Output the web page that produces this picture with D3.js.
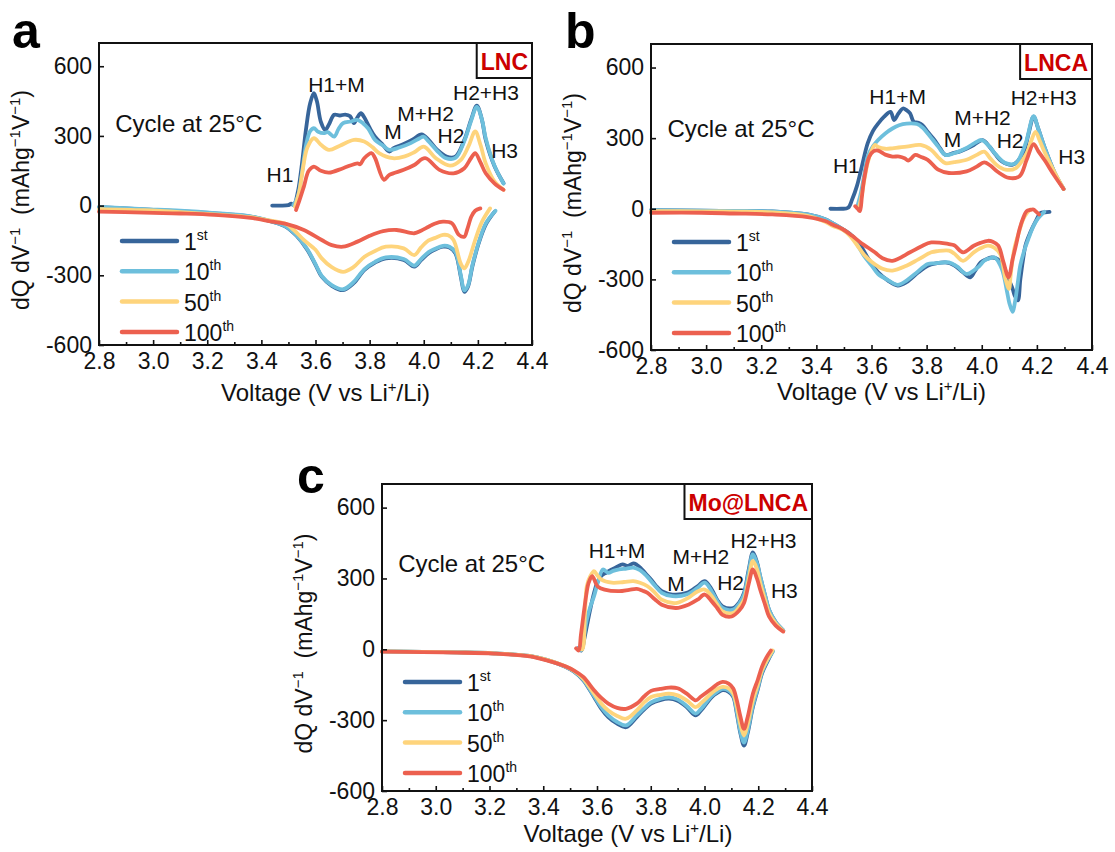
<!DOCTYPE html>
<html>
<head>
<meta charset="utf-8">
<script src="https://cdn.jsdelivr.net/npm/d3@7"></script>
<style>
  body { margin: 0; background: #fff; }
  text { font-family: "Liberation Sans", Arial, sans-serif; fill: #111; white-space: pre; }
</style>
</head>
<body>
<svg id="fig" width="1115" height="852"></svg>
<script>
// cycles shown in every panel
var cycleNames = ["1", "10", "50", "100"];
var cycleSups = ["st", "th", "th", "th"];
var cycleColors = ["#37659a", "#6dbfdc", "#fed47c", "#ec604f"];

var xTicks = [2.8, 3.0, 3.2, 3.4, 3.6, 3.8, 4.0, 4.2, 4.4];
var xMinor = [2.9, 3.1, 3.3, 3.5, 3.7, 3.9, 4.1, 4.3];
var yTicks = [-600, -300, 0, 300, 600];

// ---- panel a : LNC  (voltage, dQ/dV) ----
var a_ch1 = [[3.44,0],[3.47,0],[3.50,2],[3.51,8],[3.52,2],[3.535,60],[3.55,180],[3.565,330],[3.58,440],[3.594,484],[3.605,450],[3.62,360],[3.636,326],[3.65,350],[3.669,391],[3.69,388],[3.71,392],[3.728,385],[3.742,355],[3.755,380],[3.768,398],[3.78,380],[3.8,335],[3.82,297],[3.85,260],[3.873,233],[3.89,248],[3.926,265],[3.96,285],[3.992,307],[4.018,283],[4.05,240],[4.084,211],[4.117,211],[4.15,283],[4.175,370],[4.196,430],[4.215,370],[4.229,283],[4.262,168],[4.295,96]];
var a_ch10 = [[3.518,2],[3.535,40],[3.55,140],[3.565,260],[3.58,320],[3.594,333],[3.61,318],[3.63,312],[3.645,316],[3.669,297],[3.685,330],[3.702,355],[3.73,362],[3.755,369],[3.775,355],[3.794,333],[3.82,283],[3.85,258],[3.873,240],[3.91,250],[3.952,269],[3.985,290],[3.999,297],[4.018,276],[4.05,235],[4.08,205],[4.117,205],[4.15,278],[4.175,365],[4.196,425],[4.215,370],[4.229,290],[4.262,170],[4.295,95]];
var a_ch50 = [[3.524,-5],[3.54,60],[3.555,170],[3.57,250],[3.594,290],[3.62,262],[3.65,240],[3.69,258],[3.742,283],[3.78,276],[3.81,252],[3.835,226],[3.886,204],[3.93,212],[3.965,230],[4.0,254],[4.045,204],[4.097,172],[4.137,197],[4.165,255],[4.19,319],[4.21,260],[4.229,182],[4.262,103],[4.295,68]];
var a_ch100 = [[3.528,-19],[3.54,20],[3.557,82],[3.575,150],[3.594,168],[3.62,150],[3.65,142],[3.702,161],[3.755,182],[3.765,178],[3.78,204],[3.807,226],[3.82,205],[3.853,111],[3.873,132],[3.926,154],[3.965,175],[4.005,204],[4.058,154],[4.11,139],[4.15,161],[4.175,205],[4.19,226],[4.21,185],[4.229,139],[4.262,95],[4.295,68]];
var a_dis1 = [[4.262,-26],[4.23,-80],[4.203,-162],[4.18,-260],[4.163,-350],[4.15,-371],[4.137,-306],[4.117,-205],[4.095,-180],[4.071,-177],[4.04,-190],[4.018,-205],[3.99,-235],[3.965,-263],[3.926,-234],[3.86,-227],[3.82,-245],[3.781,-277],[3.74,-335],[3.702,-364],[3.66,-345],[3.623,-306],[3.6,-255],[3.57,-191],[3.53,-130],[3.491,-91],[3.439,-69],[3.36,-47],[3.228,-33],[3.1,-24],[2.965,-16],[2.8,-7]];
var a_dis10 = [[4.265,-22],[4.23,-75],[4.203,-158],[4.18,-255],[4.163,-345],[4.15,-365],[4.137,-300],[4.117,-200],[4.095,-177],[4.071,-173],[4.04,-187],[4.018,-200],[3.99,-230],[3.965,-258],[3.926,-230],[3.86,-223],[3.82,-242],[3.781,-273],[3.74,-330],[3.702,-360],[3.66,-342],[3.623,-303],[3.6,-252],[3.57,-188],[3.53,-128],[3.491,-90],[3.439,-68],[3.36,-46],[3.228,-32],[3.1,-22],[2.965,-15],[2.8,-6]];
var a_dis50 = [[4.245,-12],[4.215,-70],[4.19,-148],[4.165,-240],[4.15,-270],[4.137,-250],[4.11,-148],[4.09,-128],[4.071,-126],[4.04,-140],[4.018,-150],[3.99,-180],[3.965,-213],[3.926,-184],[3.86,-177],[3.82,-195],[3.781,-220],[3.74,-265],[3.702,-285],[3.66,-265],[3.623,-227],[3.6,-190],[3.557,-148],[3.52,-105],[3.491,-79],[3.439,-66],[3.36,-50],[3.228,-38],[3.1,-28],[2.965,-20],[2.8,-15]];
var a_dis100 = [[4.209,-12],[4.19,-22],[4.176,-47],[4.16,-105],[4.15,-134],[4.13,-126],[4.104,-76],[4.071,-69],[4.04,-78],[4.018,-91],[3.99,-108],[3.965,-119],[3.9,-105],[3.85,-110],[3.8,-130],[3.755,-155],[3.702,-177],[3.66,-170],[3.623,-148],[3.557,-105],[3.491,-79],[3.439,-69],[3.36,-53],[3.228,-40],[3.1,-34],[2.965,-30],[2.8,-26]];

// ---- panel b : LNCA ----
var b_ch1 = [[3.451,0],[3.49,0],[3.515,4],[3.53,40],[3.547,96],[3.565,180],[3.586,278],[3.605,330],[3.624,362],[3.645,390],[3.669,412],[3.682,377],[3.698,405],[3.714,426],[3.728,418],[3.74,405],[3.753,370],[3.77,365],[3.785,355],[3.805,325],[3.829,292],[3.85,255],[3.868,229],[3.9,238],[3.919,243],[3.95,258],[3.971,271],[4.003,292],[4.028,264],[4.05,230],[4.073,201],[4.112,187],[4.15,236],[4.17,320],[4.188,391],[4.205,340],[4.227,264],[4.265,152],[4.297,84]];
var b_ch10 = [[3.547,4],[3.56,60],[3.573,140],[3.586,222],[3.605,265],[3.624,292],[3.65,320],[3.676,341],[3.7,355],[3.727,362],[3.765,360],[3.785,345],[3.804,320],[3.842,264],[3.868,229],[3.9,236],[3.945,258],[3.975,280],[4.0,292],[4.025,268],[4.05,232],[4.086,194],[4.124,194],[4.15,250],[4.163,292],[4.188,393],[4.205,340],[4.227,264],[4.265,152],[4.297,84]];
var b_ch50 = [[3.554,0],[3.565,60],[3.575,130],[3.586,194],[3.6,245],[3.612,271],[3.624,262],[3.65,255],[3.676,257],[3.727,264],[3.778,271],[3.817,250],[3.845,215],[3.868,194],[3.9,198],[3.945,208],[3.98,228],[4.009,243],[4.03,215],[4.055,185],[4.086,166],[4.124,173],[4.163,236],[4.18,290],[4.195,327],[4.21,290],[4.227,243],[4.265,152],[4.297,84]];
var b_ch100 = [[3.541,11],[3.55,0],[3.558,-10],[3.565,50],[3.573,124],[3.592,222],[3.608,245],[3.624,247],[3.65,230],[3.676,222],[3.701,222],[3.72,215],[3.733,205],[3.745,215],[3.759,229],[3.78,220],[3.804,208],[3.842,166],[3.881,152],[3.945,159],[3.98,178],[4.009,197],[4.03,185],[4.06,155],[4.099,131],[4.137,138],[4.163,208],[4.188,275],[4.205,245],[4.227,208],[4.265,138],[4.297,84]];
var b_dis1 = [[4.246,-13],[4.23,-15],[4.214,-17],[4.195,-55],[4.176,-101],[4.16,-150],[4.15,-214],[4.14,-300],[4.131,-389],[4.12,-370],[4.112,-340],[4.092,-284],[4.073,-228],[4.055,-212],[4.035,-207],[4.015,-215],[3.996,-228],[3.975,-265],[3.958,-291],[3.932,-270],[3.9,-240],[3.868,-228],[3.835,-232],[3.804,-242],[3.77,-270],[3.727,-312],[3.695,-326],[3.66,-305],[3.624,-270],[3.59,-215],[3.56,-157],[3.53,-115],[3.496,-87],[3.46,-62],[3.432,-45],[3.368,-24],[3.24,-11],[3.1,-9],[2.983,-8],[2.8,-6]];
var b_dis10 = [[4.227,-13],[4.205,-40],[4.188,-73],[4.17,-125],[4.156,-171],[4.14,-240],[4.131,-312],[4.12,-400],[4.112,-438],[4.1,-400],[4.092,-354],[4.073,-256],[4.047,-207],[4.025,-212],[4.009,-221],[3.985,-250],[3.945,-277],[3.91,-245],[3.881,-228],[3.83,-232],[3.804,-235],[3.76,-275],[3.727,-305],[3.695,-323],[3.66,-303],[3.624,-277],[3.6,-240],[3.573,-200],[3.53,-120],[3.496,-87],[3.46,-62],[3.432,-45],[3.368,-24],[3.24,-11],[3.1,-9],[2.983,-8],[2.8,-6]];
var b_dis50 = [[4.176,-3],[4.163,-20],[4.15,-45],[4.135,-100],[4.118,-171],[4.105,-280],[4.099,-340],[4.086,-298],[4.067,-193],[4.045,-165],[4.022,-157],[3.995,-168],[3.971,-185],[3.932,-221],[3.9,-190],[3.881,-178],[3.84,-180],[3.817,-185],[3.77,-215],[3.727,-242],[3.676,-263],[3.64,-255],[3.6,-225],[3.573,-195],[3.548,-155],[3.522,-115],[3.496,-90],[3.46,-73],[3.432,-55],[3.368,-30],[3.24,-15],[3.1,-12],[2.983,-11],[2.8,-10]];
var b_dis100 = [[4.208,-24],[4.195,-10],[4.188,-3],[4.175,-5],[4.163,-10],[4.15,-40],[4.137,-87],[4.125,-150],[4.112,-214],[4.097,-291],[4.079,-228],[4.06,-157],[4.04,-140],[4.022,-136],[3.995,-145],[3.971,-157],[3.932,-185],[3.9,-155],[3.881,-150],[3.817,-143],[3.78,-160],[3.74,-185],[3.676,-221],[3.64,-210],[3.612,-185],[3.56,-143],[3.53,-115],[3.496,-87],[3.46,-68],[3.432,-52],[3.368,-35],[3.24,-24],[3.1,-20],[2.983,-17],[2.8,-17]];

// ---- panel c : Mo@LNCA ----
var c_ch1 = [[3.529,4],[3.542,-5],[3.552,40],[3.562,97],[3.575,170],[3.589,239],[3.6,280],[3.615,310],[3.635,325],[3.655,338],[3.675,350],[3.695,360],[3.715,353],[3.735,364],[3.748,358],[3.761,346],[3.78,322],[3.801,296],[3.82,268],[3.841,246],[3.881,232],[3.934,239],[3.974,267],[4.001,289],[4.027,253],[4.047,210],[4.067,182],[4.107,175],[4.13,200],[4.147,239],[4.165,340],[4.18,410],[4.195,370],[4.207,310],[4.225,230],[4.24,168],[4.265,115],[4.293,80]];
var c_ch10 = [[3.529,2],[3.542,-3],[3.552,60],[3.562,125],[3.575,180],[3.589,225],[3.605,290],[3.622,338],[3.642,324],[3.66,332],[3.682,338],[3.71,342],[3.735,346],[3.76,335],[3.785,310],[3.815,270],[3.841,239],[3.881,225],[3.934,232],[3.974,260],[4.001,282],[4.027,245],[4.047,205],[4.067,175],[4.107,168],[4.13,195],[4.147,232],[4.165,330],[4.18,402],[4.195,365],[4.207,310],[4.225,230],[4.24,168],[4.265,115],[4.293,80]];
var c_ch50 = [[3.535,4],[3.545,0],[3.555,150],[3.562,267],[3.575,310],[3.589,331],[3.6,315],[3.615,296],[3.655,282],[3.7,285],[3.735,289],[3.76,282],[3.788,267],[3.815,240],[3.841,210],[3.894,196],[3.94,218],[3.974,245],[4.001,253],[4.027,225],[4.047,190],[4.067,161],[4.107,154],[4.13,180],[4.147,210],[4.165,300],[4.18,374],[4.195,340],[4.207,282],[4.225,210],[4.24,154],[4.265,110],[4.293,78]];
var c_ch100 = [[3.522,4],[3.532,-5],[3.54,60],[3.549,139],[3.56,230],[3.569,282],[3.582,310],[3.602,267],[3.628,253],[3.682,246],[3.72,252],[3.748,256],[3.77,248],[3.788,239],[3.815,212],[3.841,189],[3.894,175],[3.94,189],[3.974,210],[4.001,232],[4.027,203],[4.047,175],[4.067,146],[4.101,139],[4.13,165],[4.147,196],[4.165,280],[4.18,338],[4.195,300],[4.207,253],[4.225,190],[4.24,139],[4.265,100],[4.293,75]];
var c_dis1 = [[4.253,-10],[4.235,-50],[4.214,-102],[4.198,-170],[4.18,-245],[4.16,-358],[4.147,-408],[4.134,-358],[4.12,-270],[4.107,-202],[4.09,-180],[4.067,-173],[4.047,-185],[4.027,-202],[3.987,-259],[3.967,-280],[3.934,-245],[3.9,-218],[3.868,-209],[3.835,-215],[3.801,-230],[3.775,-255],[3.748,-287],[3.708,-330],[3.675,-315],[3.642,-287],[3.615,-250],[3.589,-202],[3.549,-131],[3.515,-95],[3.482,-74],[3.416,-46],[3.349,-28],[3.216,-17],[3.08,-13],[2.95,-11],[2.8,-9]];
var c_dis10 = [[4.255,-8],[4.235,-45],[4.214,-97],[4.198,-165],[4.18,-238],[4.16,-348],[4.147,-395],[4.134,-350],[4.12,-262],[4.107,-196],[4.09,-175],[4.067,-168],[4.047,-180],[4.027,-197],[3.987,-252],[3.967,-272],[3.934,-240],[3.9,-212],[3.868,-203],[3.835,-210],[3.801,-225],[3.775,-250],[3.748,-280],[3.708,-322],[3.675,-308],[3.642,-280],[3.615,-244],[3.589,-198],[3.549,-129],[3.515,-94],[3.482,-73],[3.416,-46],[3.349,-28],[3.216,-17],[3.08,-13],[2.95,-11],[2.8,-9]];
var c_dis50 = [[4.253,-5],[4.235,-40],[4.214,-88],[4.198,-150],[4.18,-216],[4.16,-320],[4.147,-365],[4.134,-320],[4.12,-240],[4.107,-188],[4.09,-165],[4.067,-159],[4.047,-168],[4.027,-185],[3.987,-228],[3.967,-245],[3.934,-216],[3.9,-195],[3.868,-188],[3.835,-193],[3.801,-202],[3.775,-225],[3.748,-259],[3.708,-294],[3.675,-282],[3.642,-259],[3.615,-228],[3.589,-188],[3.549,-124],[3.515,-92],[3.482,-72],[3.416,-46],[3.349,-28],[3.216,-17],[3.08,-13],[2.95,-11],[2.8,-9]];
var c_dis100 = [[4.247,-5],[4.23,-35],[4.214,-74],[4.198,-130],[4.18,-188],[4.16,-290],[4.147,-337],[4.134,-287],[4.12,-215],[4.107,-166],[4.09,-145],[4.067,-138],[4.047,-148],[4.027,-166],[3.987,-200],[3.967,-216],[3.934,-188],[3.9,-165],[3.868,-162],[3.835,-168],[3.801,-176],[3.775,-200],[3.748,-230],[3.708,-252],[3.675,-248],[3.642,-230],[3.615,-205],[3.589,-173],[3.549,-117],[3.515,-90],[3.482,-72],[3.416,-48],[3.349,-30],[3.216,-18],[3.08,-14],[2.95,-12],[2.8,-10]];

// peak labels: text, voltage, dQ/dV at the text baseline start
var aLabels = [["H1",3.419,103],["H1+M",3.573,491],["M",3.854,286],["M+H2",3.902,366],["H2",4.051,269],["H2+H3",4.108,453],["H3",4.249,207]];
var bLabels = [["H1",3.460,152],["H1+M",3.592,447],["M",3.862,264],["M+H2",3.900,355],["H2",4.054,257],["H2+H3",4.105,440],["H3",4.278,191]];
var cLabels = [["H1+M",3.569,388],["M",3.861,246],["M+H2",3.881,360],["H2",4.047,253],["H2+H3",4.097,431],["H3",4.247,218]];

var svg = d3.select("#fig");

function drawPanel(p) {
  var g = svg.append("g").attr("transform", "translate(" + p.left + "," + p.top + ")");
  var x = d3.scaleLinear().domain([2.8, 4.4]).range([0, p.w]);
  var y = d3.scaleLinear().domain([-600, 700]).range([p.h, 0]);

  var line = d3.line()
    .x(function(d) { return x(d[0]); })
    .y(function(d) { return y(d[1]); })
    .curve(d3.curveCatmullRom.alpha(0.5));

  for (var i = 0; i < 4; i++) {
    g.append("path").datum(p.discharge[i]).attr("d", line)
      .attr("fill", "none").attr("stroke", cycleColors[i]).attr("stroke-width", 3.8)
      .attr("stroke-linejoin", "round").attr("stroke-linecap", "round");
    g.append("path").datum(p.charge[i]).attr("d", line)
      .attr("fill", "none").attr("stroke", cycleColors[i]).attr("stroke-width", 3.8)
      .attr("stroke-linejoin", "round").attr("stroke-linecap", "round");
  }

  // axes, ticks pointing inward
  var xa = g.append("g").attr("transform", "translate(0," + p.h + ")")
    .call(d3.axisBottom(x).tickValues(xTicks).tickSizeInner(-5).tickSizeOuter(0)
      .tickPadding(8).tickFormat(d3.format(".1f")));
  g.append("g").attr("transform", "translate(0," + p.h + ")")
    .call(d3.axisBottom(x).tickValues(xMinor).tickSizeInner(-3).tickSizeOuter(0).tickFormat(""))
    .select(".domain").remove();
  var ya = g.append("g")
    .call(d3.axisLeft(y).tickValues(yTicks).tickSizeInner(-5).tickSizeOuter(0)
      .tickPadding(7).tickFormat(function(d) { return String(d); }));
  g.selectAll(".domain").remove();
  g.selectAll(".tick line").attr("stroke", "#111").attr("stroke-width", 1.6);
  xa.selectAll("text").style("font-size", "23px").style("font-family", null);
  ya.selectAll("text").style("font-size", "23px").style("font-family", null);

  g.append("rect").attr("width", p.w).attr("height", p.h)
    .attr("fill", "none").attr("stroke", "#111").attr("stroke-width", 2);

  // axis titles
  var xt = g.append("text").attr("x", p.w / 2 + p.xTitleDx).attr("y", p.h + p.xTitleDy)
    .attr("text-anchor", "middle").style("font-size", "24px");
  xt.append("tspan").text("Voltage (V vs Li");
  xt.append("tspan").attr("dy", -9).style("font-size", "15px").text("+");
  xt.append("tspan").attr("dy", 9).text("/Li)");

  var yt = g.append("text")
    .attr("transform", "translate(-70," + (p.h / 2 + 6) + ") rotate(-90)")
    .attr("text-anchor", "middle").style("font-size", "23px");
  yt.append("tspan").text("dQ dV");
  yt.append("tspan").attr("dy", -9).style("font-size", "15px").text("\u22121");
  yt.append("tspan").attr("dy", 9).text("  (mAhg");
  yt.append("tspan").attr("dy", -9).style("font-size", "15px").text("\u22121");
  yt.append("tspan").attr("dy", 9).text("V");
  yt.append("tspan").attr("dy", -9).style("font-size", "15px").text("\u22121");
  yt.append("tspan").attr("dy", 9).text(")");

  // sample tag box in the top right corner
  var tag = g.append("text").attr("y", 27).style("font-size", "23px")
    .style("font-weight", "bold").style("fill", "#cc0000").text(p.tag);
  var tw = tag.node().getComputedTextLength();
  tag.attr("x", p.w - tw - 4);
  g.append("rect").attr("x", p.w - tw - 8).attr("y", 0).attr("width", tw + 8).attr("height", 35)
    .attr("fill", "none").attr("stroke", "#111").attr("stroke-width", 2);

  g.append("text").attr("x", x(2.86)).attr("y", y(p.cycleY))
    .style("font-size", "24px").text("Cycle at 25\u00b0C");

  g.selectAll(".peak").data(p.labels).enter().append("text")
    .attr("class", "peak")
    .attr("x", function(d) { return x(d[1]); })
    .attr("y", function(d) { return y(d[2]); })
    .style("font-size", "21px")
    .text(function(d) { return d[0]; });

  // legend
  for (var k = 0; k < 4; k++) {
    var ly = 198 + k * 30.3;
    g.append("line").attr("x1", 23).attr("x2", 78).attr("y1", ly).attr("y2", ly)
      .attr("stroke", cycleColors[k]).attr("stroke-width", 4.5).attr("stroke-linecap", "round");
    var lt = g.append("text").attr("x", 85).attr("y", ly + 9).style("font-size", "23px");
    lt.append("tspan").text(cycleNames[k]);
    lt.append("tspan").attr("dy", -10).style("font-size", "14px").text(cycleSups[k]);
  }

  svg.append("text").attr("x", p.letterX).attr("y", p.letterY)
    .style("font-size", "50px").style("font-weight", "bold").style("fill", "#000")
    .text(p.letter);
}

drawPanel({ letter: "a", tag: "LNC", left: 99, top: 43, w: 433, h: 302,
  charge: [a_ch1, a_ch10, a_ch50, a_ch100], discharge: [a_dis1, a_dis10, a_dis50, a_dis100],
  labels: aLabels, cycleY: 315, xTitleDx: 10, xTitleDy: 56, letterX: 12, letterY: 48 });
drawPanel({ letter: "b", tag: "LNCA", left: 651, top: 44, w: 441, h: 306,
  charge: [b_ch1, b_ch10, b_ch50, b_ch100], discharge: [b_dis1, b_dis10, b_dis50, b_dis100],
  labels: bLabels, cycleY: 306, xTitleDx: 10, xTitleDy: 50, letterX: 565, letterY: 48 });
drawPanel({ letter: "c", tag: "Mo@LNCA", left: 382, top: 484, w: 430, h: 307,
  charge: [c_ch1, c_ch10, c_ch50, c_ch100], discharge: [c_dis1, c_dis10, c_dis50, c_dis100],
  labels: cLabels, cycleY: 327, xTitleDx: 31, xTitleDy: 51, letterX: 297, letterY: 493 });
</script>
</body>
</html>
